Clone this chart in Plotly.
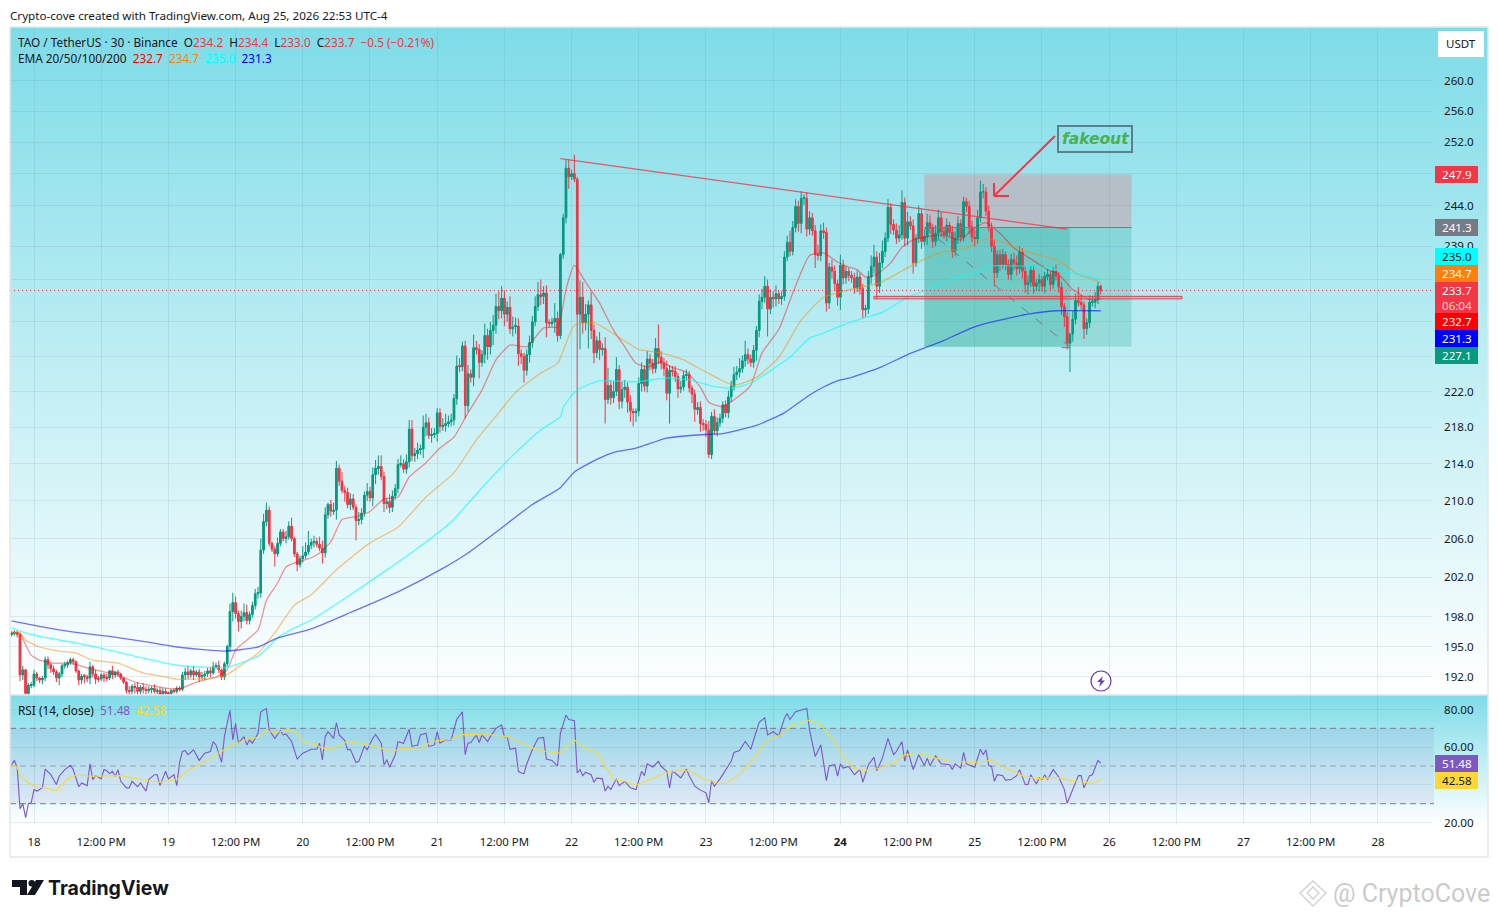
import math
import pandas as pd
import plotly.graph_objects as go

FONT = "Noto Sans"
W, H = 1498, 918
X_L, X_R, X_E = 10, 1432, 1488
MAIN_T, MAIN_B, RSI_B, TIME_B = 27, 695, 825, 857

closes = [
196.3,196.4,196.2,192.2,192.7,190.4,191.2,191.2,192.3,191.9,
191.7,191.9,193.7,193.2,192.8,192.5,191.9,192.3,193.1,193.2,
193.4,193.7,193.5,192.6,191.7,192.1,192.0,191.9,193.0,192.3,
191.8,191.8,192.2,191.9,191.9,192.6,192.2,192.5,192.3,191.9,
191.5,190.7,190.6,191.1,191.0,190.6,191.0,190.8,190.7,190.8,
190.9,190.6,190.7,190.3,190.6,190.4,190.4,190.7,190.6,190.9,
190.8,192.2,192.5,192.2,192.6,192.2,192.5,192.0,192.1,192.3,
192.6,192.4,193.0,193.1,192.7,192.0,193.3,195.0,198.5,199.4,
198.3,197.5,198.0,198.4,197.6,198.2,199.1,200.3,200.4,204.8,
207.8,209.0,205.5,204.9,204.4,205.5,206.7,206.0,206.2,207.3,
206.0,204.4,203.3,203.9,204.2,204.6,205.3,205.6,205.7,205.4,
205.0,204.5,208.5,209.6,208.9,209.0,213.5,212.1,211.1,210.9,
209.6,210.2,209.3,207.9,208.0,208.7,210.6,211.0,210.3,212.8,
213.5,213.7,212.6,209.7,209.9,209.3,210.5,211.3,213.9,214.0,
213.4,214.2,217.8,214.9,215.1,215.5,215.6,218.0,218.5,217.1,
217.2,217.3,219.6,218.1,218.2,218.4,218.6,218.8,221.2,224.9,
224.8,227.2,220.4,224.0,223.6,227.0,226.8,225.3,226.2,228.4,
227.1,229.0,229.6,231.8,231.3,232.8,230.9,231.7,229.2,229.4,
229.5,226.3,226.0,224.4,226.2,227.6,230.0,231.8,233.2,233.0,
233.4,229.9,229.8,230.0,230.4,228.4,238.0,242.5,248.7,247.6,
248.0,247.3,230.9,232.9,229.9,230.9,232.0,229.0,226.4,227.8,
226.8,226.9,221.1,222.7,221.3,222.0,224.5,220.9,222.2,222.5,
220.8,219.8,219.6,219.8,222.9,224.5,222.6,225.7,225.2,224.6,
226.9,225.9,225.2,224.6,221.8,224.4,224.3,223.7,222.3,222.5,
223.8,223.9,222.4,221.7,220.0,220.2,218.4,218.3,217.7,215.0,
219.2,217.6,218.5,219.0,220.5,219.6,221.4,222.6,223.9,224.2,
224.6,225.5,226.2,225.7,225.3,226.7,229.0,232.4,232.9,234.2,
231.5,232.9,232.7,233.3,232.7,233.0,237.7,239.5,238.4,241.3,
243.9,241.8,244.9,244.9,241.1,242.5,240.9,238.0,237.9,240.9,
240.7,232.2,236.5,236.0,234.5,232.9,236.7,235.2,236.0,235.5,
235.2,234.0,235.3,233.9,231.4,231.5,235.3,236.6,237.7,234.2,
237.0,238.4,240.0,243.8,241.7,241.0,240.0,240.4,244.4,240.0,
242.0,241.5,237.0,240.0,243.0,239.6,240.2,241.9,241.2,239.6,
240.6,242.5,240.8,240.4,241.6,240.7,238.4,240.0,241.8,240.1,
244.5,243.9,241.4,240.1,239.9,242.5,245.7,245.7,243.3,241.3,
239.0,235.8,238.0,236.8,238.0,236.8,235.6,237.4,237.0,236.3,
238.3,236.0,234.4,234.7,236.1,234.2,234.6,235.0,234.2,235.4,
235.6,234.4,236.0,235.4,234.1,231.8,230.6,227.5,228.6,230.3,
232.5,232.3,232.0,229.2,229.9,232.3,232.3,232.6,234.2,233.7]

wick_up = [
.2,.2,.2,.1,.4,.1,.2,.3,.4,.2,
.1,.2,.3,.3,.2,.3,.2,.2,.2,.3,
.2,.2,.2,.1,.1,.2,.2,.2,.5,.2,
.4,.3,.2,.2,.4,.1,.5,.1,.2,.1,
.1,.1,.4,.2,.3,.5,.2,.4,.3,.3,
.2,.4,.2,.3,.3,.3,.2,.1,.2,.2,
.2,.3,.4,.6,.2,.5,.2,.3,.4,.3,
.3,.4,.5,.3,.5,.1,.2,.2,.8,1.0,
.6,.3,.6,.9,.8,.3,.4,.5,.6,1.2,
.8,.8,.4,.2,.3,.6,.3,.3,.6,.5,
.9,.2,.2,.3,1.0,1.0,1.5,.4,.6,.4,
.8,.8,.8,.2,.5,.8,.8,.4,1.0,.5,
.5,.6,.5,.3,.8,.5,.4,.9,.5,.8,
.9,1.2,1.2,.5,.4,.8,.6,.5,.6,.9,
.5,.8,1.0,1.0,.6,.8,.5,1.3,1.0,.6,
.7,.6,.5,.5,.8,1.1,.7,.7,.5,1.2,
.9,.5,.6,1.0,.5,1.5,.8,.6,.5,1.4,
.8,1.0,1.2,1.5,1.8,1.4,.9,.7,1.3,1.2,
1.0,.9,.5,.4,.6,.8,.7,1.2,1.5,1.8,
.8,.9,.4,.5,1.8,.8,.2,.5,1.0,1.1,
.5,2.4,.3,2.0,1.8,1.2,.5,1.5,.7,.5,
1.0,.6,1.3,2.0,.6,1.2,1.4,.5,.9,.8,
.5,.8,.3,.3,.7,.8,.5,.9,.6,.5,
1.2,2.8,.7,.6,.9,.6,.5,.6,.4,.7,
.5,.6,.4,.3,.5,.6,.7,.5,.5,1.0,
.5,.8,.6,.5,.4,.5,.7,.6,.9,.7,
1.2,.6,1.6,.7,.5,.6,.5,.8,1.0,1.2,
.8,.9,.7,1.0,.4,.6,.7,.8,1.4,.8,
.9,.7,.9,.5,.8,.8,.6,.7,1.2,.8,
1.0,.6,.5,.9,.7,.5,1.3,.7,.6,.4,
.5,.6,.8,.5,.6,.5,.7,1.3,1.5,.7,
1.2,1.3,.7,1.0,.5,.6,.8,1.2,1.5,.6,
1.2,.7,.8,.5,1.0,.7,.9,1.1,.9,.5,
1.0,1.0,.7,.6,.8,.4,.8,.8,.9,.5,
.6,.5,.7,.8,.9,1.0,1.4,1.0,.6,.7,
.6,.8,.5,.6,.7,.4,.6,.7,.8,.9,
.7,.5,.6,.8,.5,.6,.5,.7,.4,.5,
.7,.4,.5,.8,.5,.6,.4,.5,.0,1.0,
.8,1.6,.9,.4,.5,.8,.7,.9,.5,.2]

wick_dn = [
.2,.2,.3,.6,.5,.2,.2,.3,.2,.3,
.3,.4,.3,.4,.4,.3,.4,.7,.3,.3,
.3,.2,.3,.2,.5,.4,.6,.4,.6,.3,
.5,.3,.2,.4,.3,.2,.4,.3,.3,.2,
.2,.3,.4,.3,.6,.3,.3,.4,.4,.3,
.4,.2,.3,.3,.2,.2,.2,.2,.2,.2,
.2,.2,.5,.4,.3,.5,.2,.5,.3,.4,
.3,.4,.2,.2,.3,.3,.3,.3,.5,1.0,
.5,1.0,.7,.5,.4,.4,.3,.4,.5,.5,
.4,.5,.3,.3,1.3,.3,.3,.3,.5,.3,
.3,.3,.7,.3,.4,.3,.3,.4,.5,.3,
.3,1.1,.5,.4,.6,.4,1.0,.5,.3,1.0,
.4,.6,.3,2.1,.5,.5,.4,.6,.4,.9,
1.0,.7,.4,.9,.6,.6,.5,.4,.5,.3,
.4,.5,.6,.6,.7,.6,.5,1.0,1.0,.4,
.8,.4,.9,.7,.5,.7,.4,.5,.6,.7,
.6,.5,1.4,.7,.6,1.0,.6,1.8,.5,1.0,
1.5,.9,1.7,1.0,1.0,.9,1.4,.9,.6,.9,
.8,1.4,.9,1.4,.6,.9,.6,.5,.5,1.0,
.9,1.7,.5,.4,1.3,.7,.4,.5,.7,1.5,
.4,.4,16.9,4.1,1.3,.9,4.0,1.0,1.2,.6,
1.2,.7,2.7,.5,.8,.6,.5,.9,.8,.9,
1.2,1.2,1.5,1.0,.6,.9,.6,.7,.8,.6,
.5,.8,.7,.9,.8,3.4,.6,.6,1.0,.5,
.4,.6,.5,1.0,1.4,.6,.9,.7,.8,.4,
.5,.4,.6,.5,.5,.5,.6,.6,.5,.6,
.6,.5,.7,.6,.5,.6,1.2,.8,.9,.7,
3.2,.6,1.0,.9,.6,.7,.5,.5,.6,.5,
.6,1.0,1.2,.8,.9,.7,.6,1.6,.6,.7,
.8,1.0,.7,.9,.8,1.0,1.5,.8,.7,.7,
.6,.7,.5,.7,1.0,.8,.6,.8,.9,1.5,
.8,.6,.7,.5,1.2,.6,.7,.5,.6,1.0,
.9,.5,1.3,.5,.6,.9,.5,1.0,.6,.8,
.6,.9,.7,.5,.8,.5,.8,.6,.7,.6,
.5,.7,.9,.6,.9,.6,.6,.8,.6,.5,
.7,1.6,.6,.8,.5,.7,.6,.7,.9,.8,
.6,.9,1.0,1.2,.6,.9,.6,1.0,.6,.8,
.5,.6,.5,.5,.7,1.0,1.2,.7,3.3,.9,
.6,.5,.6,1.2,.7,.6,.5,.7,.5,.5]

first_open = 196.2
first_bar = -8

ema20_pts = [(-8,196.4),(-5,196.35),(-3,195.15),(-1,194.15),(2,193.65),(7,193.35),(13,193.35),(19,192.9),(25,192.5),(30,192.2),(36,191.5),(41,191.2),(49,190.85),(53,190.95),(58,191.5),(65,192.0),(69,192.7),(72,194.65),(80,196.65),(83,199.65),(87,201.4),(90,203.05),(94,203.55),(99,204.0),(102,204.5),(106,205.65),(110,208.0),(115,208.3),(120,208.85),(125,210.2),(130,210.4),(134,212.55),(140,214.1),(145,215.7),(150,216.9),(155,219.6),(160,222.15),(165,225.6),(170,227.3),(176,227.1),(182,229.3),(187,229.4),(188,230.2),(190,233.8),(193,236.7),(197,234.7),(202,232.2),(207,229.0),(211,227.1),(215,225.2),(219,224.8),(224,225.4),(228,224.7),(233,224.2),(238,222.5),(241,220.8),(246,220.3),(251,221.3),(256,222.7),(260,226.4),(266,229.1),(271,233.4),(277,237.9),(282,238.2),(287,237.1),(291,236.5),(294,236.2),(297,235.3),(301,235.6),(306,237.0),(310,238.9),(314,239.8),(324,240.4),(331,239.8),(335,241.0),(340,241.9),(345,240.6),(350,238.8),(355,237.7),(362,236.2),(366,235.6),(371,233.8),(377,232.6),(381,232.7)]
ema50_pts = [(-8,196.4),(-5,196.35),(-3,195.65),(2,194.95),(9,194.55),(15,194.35),(21,193.65),(30,193.35),(39,192.4),(45,192.1),(51,191.8),(58,191.8),(68,192.1),(75,193.35),(80,194.35),(86,196.35),(93,199.15),(99,200.2),(108,202.75),(120,205.55),(130,207.2),(140,210.4),(150,213.0),(158,216.6),(166,219.6),(172,221.9),(181,224.1),(187,225.2),(193,229.6),(200,229.9),(208,228.4),(216,226.8),(224,226.4),(232,225.6),(240,224.2),(250,222.7),(258,223.6),(266,225.9),(274,230.2),(282,232.9),(288,233.5),(291,233.8),(302,234.6),(312,236.4),(319,237.6),(324,238.3),(333,238.8),(340,239.9),(345,239.6),(355,238.3),(365,237.4),(373,235.6),(381,234.7)]
ema100_pts = [(-8,196.85),(-3,196.35),(3,195.95),(15,195.35),(27,194.65),(39,193.85),(51,193.15),(63,192.95),(69,192.95),(80,194.05),(87,195.85),(93,196.85),(99,197.65),(113,200.2),(126,202.75),(137,205.0),(149,207.75),(160,211.4),(171,214.9),(181,217.7),(188,219.15),(189,220.2),(193,221.9),(196,222.5),(202,223.2),(215,223.1),(226,223.5),(234,223.3),(244,222.5),(250,222.4),(257,223.1),(265,224.8),(270,225.9),(277,228.1),(282,228.7),(288,229.5),(291,229.9),(297,230.5),(303,231.1),(312,232.9),(319,233.8),(327,234.95),(337,235.9),(341,236.6),(359,236.5),(371,235.8),(381,235.0)]
ema200_pts = [(-8,197.55),(3,196.95),(15,196.4),(27,196.0),(39,195.5),(51,194.95),(68,194.55),(80,194.95),(87,195.85),(99,196.75),(113,198.4),(130,200.5),(146,202.9),(155,204.5),(166,206.9),(178,209.6),(188,211.4),(193,213.1),(202,214.6),(208,215.3),(215,215.7),(226,216.8),(240,217.2),(246,217.3),(258,218.2),(268,219.6),(277,221.6),(282,222.5),(288,223.3),(291,223.5),(302,224.7),(312,226.2),(324,227.7),(335,229.3),(341,229.9),(355,230.9),(365,231.3),(381,231.3)]

rsi_pts = [(-8,50.7),(-7,53),(-6,49),(-5,27.4),(-4,30),(-3,22.6),(-2,30),(-1,30.5),(0,37.5),(1,36.7),(3,38.4),(4,48.4),(6,45.4),(8,40.2),(9,44.6),(11,48.1),(13,50.4),(14,48.1),(16,39),(17,41),(19,39.6),(20,51.2),(21,42.8),(22,44.9),(24,43.2),(25,48.1),(26,47.5),(27,46),(28,47.2),(29,44.6),(30,48.1),(31,41.9),(33,38.4),(34,38.4),(35,41.9),(37,39),(38,41),(40,36.7),(41,42.8),(43,45.4),(44,45.4),(45,39.6),(47,47.2),(48,43.2),(50,45.4),(51,39.6),(52,52),(53,57.7),(54,58.2),(55,56),(57,58.6),(59,53),(61,56.8),(63,57.7),(64,62.9),(65,61.2),(67,51.9),(68,65.6),(70,79.6),(71,63.9),(72,72.6),(73,62.1),(75,65.6),(76,61.2),(77,63.9),(78,62.1),(80,67.4),(81,78.8),(83,80.5),(84,69.1),(86,64.7),(88,68.8),(89,66.5),(90,67),(92,63),(94,53.7),(96,56.8),(99,58.9),(101,58.9),(102,62.1),(103,53.3),(104,65.6),(105,68.2),(107,64.7),(108,73),(109,66.5),(111,63.5),(112,58.6),(113,58.9),(115,51.9),(116,52.5),(118,60.4),(119,58.6),(121,64.7),(122,66.8),(124,62.1),(125,50.7),(126,53.3),(127,49.3),(129,55.8),(130,62.9),(132,62.1),(134,69.5),(135,60.4),(137,61.2),(138,66.5),(140,67.4),(141,60.4),(143,61.2),(144,68.2),(145,62.1),(147,63.9),(149,63.9),(151,74.8),(153,78.8),(154,56),(155,62.1),(156,62.5),(158,66.5),(159,62.5),(160,66.5),(162,63),(163,65.6),(165,70),(167,71.8),(168,65.6),(169,65.6),(170,58.9),(172,59.5),(173,47.2),(174,46.3),(175,46),(176,51.2),(178,58.6),(180,64.7),(182,65.2),(183,53.7),(185,53),(187,50),
(188,67.4),(190,77),(191,74.7),(193,74),(194,46.3),(195,48.1),(196,44.9),(197,46.7),(199,45.4),(200,41.4),(201,43.7),(203,43.2),(204,36.7),(205,39.3),(206,37.5),(208,43.2),(209,39.6),(211,41.9),(213,38.4),(215,37.5),(217,47.2),(218,44.9),(219,51.2),(221,49.5),(223,52.5),(224,49.8),(226,47.2),(227,38.4),(228,47.2),(229,46.3),(231,43.7),(233,48.4),(234,44.9),(236,39.3),(238,37.2),(240,35.8),(241,30.5),(242,42.3),(243,39.3),(245,43.2),(247,48.1),(249,52.5),(250,57.2),(252,58.2),(254,63),(256,58.9),(259,73.2),(261,75.6),(262,66.5),(264,68.2),(266,66),(268,75.3),(269,77.9),(270,74.7),(272,78.8),(276,80.5),(277,69.1),(279,55.1),(281,61.2),(283,42.3),(284,50.2),(286,50.7),(287,44.6),(288,51.2),(289,48.9),(291,49.8),(293,45.4),(295,48.1),(296,41.4),(298,50.7),(300,54.6),(301,47.5),(303,54.2),(305,64.7),(307,56),(308,57.7),(310,63),(311,52.5),(312,58.6),(314,48.1),(316,56),(318,50.2),(319,54.2),(320,50.2),(322,55.4),(324,51.2),(327,50.7),(328,48.1),(329,51.2),(331,48.9),(332,57.2),(333,51.2),(336,49.3),(338,58.9),(339,56),(340,58.6),(341,50.2),(342,49.8),(343,41.9),(344,45.4),(346,44.9),(347,42.5),(349,42.8),(351,44.9),(352,48.1),(354,40.2),(355,40.2),(356,45.4),(358,40.5),(359,43.7),(360,42.8),(361,45.4),(362,42.8),(364,48.1),(366,44.2),(368,37.5),(369,30.2),(372,41.9),(373,44.9),(374,44.9),(375,38.4),(377,44.9),(378,45.4),(380,53),(381,51.48)]
rsi_ma_pts = [(-8,50.2),(-6,49.5),(-5,44.9),(-2,41),(1,38.9),(4,38.4),(8,37),(10,40.2),(13,44.2),(16,45.4),(20,44.6),(26,44.6),(31,44.9),(35,43.7),(40,42.3),(45,41.4),(51,42.8),(54,46.7),(59,50.7),(63,54.2),(67,57.7),(71,61.2),(76,64.2),(80,65.3),(83,68.8),(86,67.7),(91,69.1),(94,67.4),(96,63),(101,61.2),(103,59.5),(107,59.5),(112,63),(116,62.1),(123,60),(128,57.5),(131,59.3),(138,58.9),(142,63),(149,64.2),(153,66.8),(164,66.5),(169,65.6),(173,63),(178,59.5),(183,57.7),(188,56.8),(193,63.9),(196,60),(201,57.2),(204,49.8),(207,42.8),(211,41.9),(215,39.8),(220,42.8),(225,46),(230,47.5),(234,47.5),(239,43.2),(244,41),(247,40.7),(252,45.4),(257,54.2),(262,63.9),(266,66),(271,71.8),(277,74.4),(281,71.8),(285,64.7),(289,55.1),(293,48.9),(296,47.7),(301,48.4),(307,51.6),(311,56),(316,56.8),(322,54.2),(327,52.5),(336,51.9),(342,53),(347,48.9),(354,44.2),(359,43.3),(365,44),(370,42.5),(378,40.7),(381,42.58)]

price_ticks = [192,195,198,202,206,210,214,218,222,226,230,235,239,244,248,252,256,260]
covered_price_ticks = [226,230,235,248]
rsi_ticks = [20,40,60,80]
rsi_levels = [70,50,30]
day_labels = ["18","19","20","21","22","23","<b>24</b>","25","26","27","28"]
noon_label = "12:00 PM"

last_price = 233.7
stop_price, entry_price, target_price = 247.9, 241.3, 227.1
trend_bars, trend_prices = (188, 369), (249.9, 241.1)
position_bars = (318, 370, 392)
zone_bars, zone_prices = (300, 410), (233.0, 232.7)

price_range = (190.25, 267.2)
rsi_range = (18.7, 87.7)
bar_range = (-8.57, 499.3)

t0 = pd.Timestamp("2026-08-18 00:00")
def T(b):
    return t0 + pd.Timedelta(minutes=30 * b)
def px(x):
    return x / W
def py(y):
    return 1 - y / H

bars = [first_bar + i for i in range(len(closes))]
times = [T(b) for b in bars]
opens = [first_open] + closes[:-1]
highs = [round(max(o, c) + u, 2) for o, c, u in zip(opens, closes, wick_up)]
lows = [round(min(o, c) - d, 2) for o, c, d in zip(opens, closes, wick_dn)]

UP, DOWN = "#089981", "#f23645"
fig = go.Figure()
fig.add_trace(go.Candlestick(
    x=times, open=opens, high=highs, low=lows, close=closes,
    increasing=dict(line=dict(color=UP, width=1), fillcolor=UP),
    decreasing=dict(line=dict(color=DOWN, width=1), fillcolor=DOWN),
    whiskerwidth=0, xaxis="x", yaxis="y", showlegend=False, hoverinfo="skip"))
fig.add_trace(go.Bar(
    x=times, base=[min(o, c) for o, c in zip(opens, closes)],
    y=[max(abs(c - o), 0.12) for o, c in zip(opens, closes)],
    width=[1.6e6] * len(times),
    marker=dict(color=[UP if c >= o else DOWN for o, c in zip(opens, closes)], line=dict(width=0)),
    xaxis="x", yaxis="y", showlegend=False, hoverinfo="skip"))

for pts, col in [(ema20_pts, "rgba(255,0,0,0.42)"), (ema50_pts, "rgba(255,140,0,0.5)"),
                 (ema100_pts, "rgba(0,255,255,0.62)"), (ema200_pts, "rgba(0,0,255,0.55)")]:
    fig.add_trace(go.Scatter(x=[T(p[0]) for p in pts], y=[p[1] for p in pts], mode="lines",
                             line=dict(color=col, width=1.3, shape="spline", smoothing=0.5),
                             xaxis="x", yaxis="y", showlegend=False, hoverinfo="skip"))

fig.add_trace(go.Scatter(x=[T(p[0]) for p in rsi_pts], y=[p[1] for p in rsi_pts], mode="lines",
                         line=dict(color="#7e57c2", width=1.1), xaxis="x2", yaxis="y2",
                         showlegend=False, hoverinfo="skip"))
fig.add_trace(go.Scatter(x=[T(p[0]) for p in rsi_ma_pts], y=[p[1] for p in rsi_ma_pts], mode="lines",
                         line=dict(color="#fdd835", width=1.1), xaxis="x2", yaxis="y2",
                         showlegend=False, hoverinfo="skip"))

shapes = []
TOP = (126, 220, 232)
def mix(f):
    return "rgb(%d,%d,%d)" % tuple(round(c + (255 - c) * f) for c in TOP)
def strips(y0, y1, step):
    y = y0
    while y < y1:
        ye = min(y + step, y1)
        f = (y + step / 2 - y0) / (y1 - y0)
        shapes.append(dict(type="rect", xref="paper", yref="paper", x0=px(X_L), x1=px(X_E),
                           y0=py(y), y1=py(ye + 0.5), fillcolor=mix(min(f, 1)),
                           line=dict(width=0), layer="below"))
        y = ye
strips(MAIN_T, MAIN_B, 4)
strips(MAIN_B, RSI_B, 3)

def data_rect(b0, b1, p0, p1, fill, line=None, layer="below"):
    shapes.append(dict(type="rect", xref="x", yref="y", x0=T(b0), x1=T(b1), y0=p0, y1=p1,
                       fillcolor=fill, line=line or dict(width=0), layer=layer))
def data_line(b0, p0, b1, p1, color, width=1, dash="solid", layer="above"):
    shapes.append(dict(type="line", xref="x", yref="y", x0=T(b0), x1=T(b1), y0=p0, y1=p1,
                       line=dict(color=color, width=width, dash=dash), layer=layer))
def pix_line(x0, y0, x1, y1, color, width=1, dash="solid"):
    shapes.append(dict(type="line", xref="paper", yref="paper", x0=px(x0), x1=px(x1), y0=py(y0), y1=py(y1),
                       line=dict(color=color, width=width, dash=dash), layer="above"))
def pix_rect(x0, y0, x1, y1, fill, line=None, layer="above"):
    shapes.append(dict(type="rect", xref="paper", yref="paper", x0=px(x0), x1=px(x1), y0=py(y0), y1=py(y1),
                       fillcolor=fill, line=line or dict(width=0), layer=layer))
def pix_path(points, fill, line=None, layer="above"):
    d = "M " + " L ".join(f"{px(a):.5f},{py(b):.5f}" for a, b in points) + " Z"
    shapes.append(dict(type="path", xref="paper", yref="paper", path=d, fillcolor=fill,
                       line=line or dict(width=0), layer=layer))

# short position
b0, bm, b1 = position_bars
data_rect(b0, b1, entry_price, stop_price, "rgba(200,160,170,0.55)")
data_rect(b0, b1, target_price, entry_price, "rgba(8,153,129,0.20)")
data_rect(b0, bm, target_price, entry_price, "rgba(8,153,129,0.22)")
data_line(b0, entry_price, b1, entry_price, "#787b86", 1)
data_line(bm, target_price - 0.1, bm - 3, target_price - 0.1, "#787b86", 1)
data_line(b0, entry_price, bm, target_price, "#787b86", 1, "dash")

# trend line, zone, last price
data_line(trend_bars[0], trend_prices[0], trend_bars[1], trend_prices[1], "rgba(242,54,69,0.8)", 1.2)
data_rect(zone_bars[0], zone_bars[1], zone_prices[1], zone_prices[0], "rgba(242,54,69,0.10)",
          dict(color="#f23645", width=1), layer="above")
data_line(bar_range[0], last_price, bar_range[1], last_price, "#f23645", 1, "1px,3px")

# RSI band
shapes.append(dict(type="rect", xref="paper", yref="y2", x0=px(X_L), x1=px(1434), y0=30, y1=70,
                   fillcolor="rgba(126,87,194,0.1)", line=dict(width=0), layer="below"))
for lv, c in zip(rsi_levels, ["#787b86", "rgba(120,123,134,0.6)", "#787b86"]):
    shapes.append(dict(type="line", xref="paper", yref="y2", x0=px(X_L), x1=px(1434), y0=lv, y1=lv,
                       line=dict(color=c, width=1, dash="6px,4px"), layer="below"))

# arrow
pix_line(1055, 136, 994, 196, "#f23645", 2)
pix_line(994, 196, 994, 183, "#f23645", 2)
pix_line(994, 196, 1009, 196, "#f23645", 2)

# fakeout box
pix_rect(1058, 126, 1132, 152, "rgba(0,0,0,0)", dict(color="#607d8b", width=2))

# frame
pix_rect(X_L, MAIN_T, X_E, TIME_B, "rgba(0,0,0,0)", dict(color="#e4e7ec", width=1.5))
pix_line(X_L, MAIN_B, X_E, MAIN_B, "#e0e3eb", 1.5)

# price scale boxes and currency button
labels = [("247.9", 166, 183, "#f23645", "#ffffff"), ("241.3", 219, 236, "#787b86", "#ffffff"),
          ("235.0", 248, 265, "#00ffff", "#131722"), ("234.7", 265, 282, "#ff7f0e", "#ffffff"),
          ("232.7", 313, 330, "#ff0000", "#ffffff"), ("231.3", 330, 347, "#0000ff", "#ffffff"),
          ("227.1", 347, 364, "#089981", "#ffffff"), ("51.48", 755, 772, "#7e57c2", "#ffffff"),
          ("42.58", 772, 789, "#fdd835", "#131722")]
for _, y0, y1, fill, _c in labels:
    pix_rect(1435, y0, 1478, y1, fill)
pix_rect(1435, 282, 1478, 313, "#f23645")
pix_rect(1438, 31, 1484, 57, "#ffffff")

# lightning icon
shapes.append(dict(type="circle", xref="paper", yref="paper", x0=px(1091), x1=px(1111), y0=py(691), y1=py(671),
                   fillcolor="#ffffff", line=dict(color="#673ab7", width=1.2), layer="above"))
pix_path([(1103, 676), (1097, 682), (1100.5, 682), (1099, 687), (1105, 680.5), (1101.5, 680.5)], "#673ab7")

# TradingView logo
pix_path([(12, 880), (27, 880), (27, 895), (20, 895), (20, 887), (12, 887)], "#131722")
shapes.append(dict(type="circle", xref="paper", yref="paper", x0=px(28.5), x1=px(35), y0=py(886.5), y1=py(880),
                   fillcolor="#131722", line=dict(width=0), layer="above"))
pix_path([(36, 880), (44, 880), (35, 895), (27, 895)], "#131722")

# watermark diamonds
WM = "rgba(170,170,170,0.55)"
pix_path([(1313, 881), (1326, 893), (1313, 906), (1300, 893)], "rgba(0,0,0,0)", dict(color=WM, width=1.3))
pix_path([(1313, 887), (1319, 893), (1313, 899), (1307, 893)], "rgba(0,0,0,0)", dict(color=WM, width=1.3))

ann = []
def text(x, y, s, size=12, color="#131722", anchor="left", font=FONT, **kw):
    ann.append(dict(xref="paper", yref="paper", x=px(x), y=py(y), text=s, showarrow=False,
                    xanchor=anchor, yanchor="middle", borderpad=0, borderwidth=0,
                    font=dict(family=font, size=size, color=color), **kw))

R = "#f23645"
GAP = "\u00a0\u00a0"
def sp(c, s):
    return f'<span style="color:{c}">{s}</span>'
text(10, 15, "Crypto-cove created with TradingView.com, Aug 25, 2026 22:53 UTC-4", 11.65)
text(18, 42, "TAO / TetherUS · 30 · Binance" + GAP + "O" + sp(R, "234.2") + GAP + "H" + sp(R, "234.4") + GAP + "L"
     + sp(R, "233.0") + GAP + "C" + sp(R, "233.7") + GAP + sp(R, "−0.5 (−0.21%)"), 11.8)
text(18, 58, "EMA 20/50/100/200" + GAP + sp("#ff0000", "232.7") + GAP + sp("#ff7f0e", "234.7") + GAP
     + sp("#00ffff", "235.0") + GAP + sp("#0000ff", "231.3"), 11.8)
text(18, 710, "RSI (14, close)" + GAP + sp("#7e57c2", "51.48") + GAP + sp("#fdd835", "42.58"), 11.8)

text(1461, 44, "USDT", 11.5, anchor="center")
for s, y0, y1, _f, c in labels:
    text(1457, (y0 + y1) / 2, s, 11.6, c, anchor="center")
text(1457, 290.5, "233.7", 11.6, "#ffffff", anchor="center")
text(1457, 305, "06:04", 11.6, "rgba(255,255,255,0.8)", anchor="center")
text(1095, 139, "<b><i>fakeout</i></b>", 15.5, "#4caf50", anchor="center", font="DejaVu Sans")
text(48, 888, "<b>TradingView</b>", 19.5, "#131722", font="Inter")
text(1333, 893, "@ CryptoCove", 25, "rgba(150,150,150,0.5)", font="Roboto")

fig.update_layout(
    annotations=ann, shapes=shapes, barmode="overlay",
    width=W, height=H, margin=dict(l=0, r=0, t=0, b=0, autoexpand=False),
    paper_bgcolor="#ffffff", plot_bgcolor="rgba(0,0,0,0)", showlegend=False, hovermode=False,
    font=dict(family=FONT, size=12, color="#131722"),
)

tick_bars = list(range(0, 500, 24))
tick_times = [T(b) for b in tick_bars]
day_iter = iter(day_labels)
tick_text = [next(day_iter) if b % 48 == 0 else noon_label for b in tick_bars]
GRID = "rgba(90,130,160,0.14)"
xr = [T(bar_range[0]), T(bar_range[1])]
common_x = dict(type="date", range=xr, domain=[px(X_L), px(X_R)], tickmode="array", tickvals=tick_times,
                showgrid=True, gridcolor=GRID, gridwidth=1, zeroline=False, showline=False, ticks="",
                automargin=False)
price_text = ["" if v in covered_price_ticks else f"{v:.1f}" for v in price_ticks]
fig.update_layout(
    xaxis=dict(**common_x, anchor="y", showticklabels=False, rangeslider=dict(visible=False)),
    xaxis2=dict(**common_x, anchor="y2", matches="x", ticktext=tick_text, showticklabels=True,
                tickfont=dict(size=11.4, color="#131722", family=FONT), ticklabelstandoff=9),
    yaxis=dict(type="log", range=[math.log10(price_range[0]), math.log10(price_range[1])],
               domain=[py(MAIN_B), py(MAIN_T)], anchor="x", side="right", tickmode="array", automargin=False,
               tickvals=price_ticks, ticktext=price_text, showgrid=True, gridcolor=GRID,
               zeroline=False, showline=False, ticks="", tickfont=dict(size=11.6, color="#131722", family=FONT),
               ticklabelstandoff=11),
    yaxis2=dict(range=list(rsi_range), domain=[py(RSI_B), py(MAIN_B)], anchor="x2", side="right", automargin=False,
                tickmode="array", tickvals=rsi_ticks, ticktext=[f"{v:.2f}" for v in rsi_ticks], showgrid=True,
                gridcolor=GRID, zeroline=False, showline=False, ticks="",
                tickfont=dict(size=11.6, color="#131722", family=FONT), ticklabelstandoff=11),
)

fig.write_html("out.html", config={"displayModeBar": False},
               post_script="document.body.style.margin='0';document.body.style.overflow='hidden';")
